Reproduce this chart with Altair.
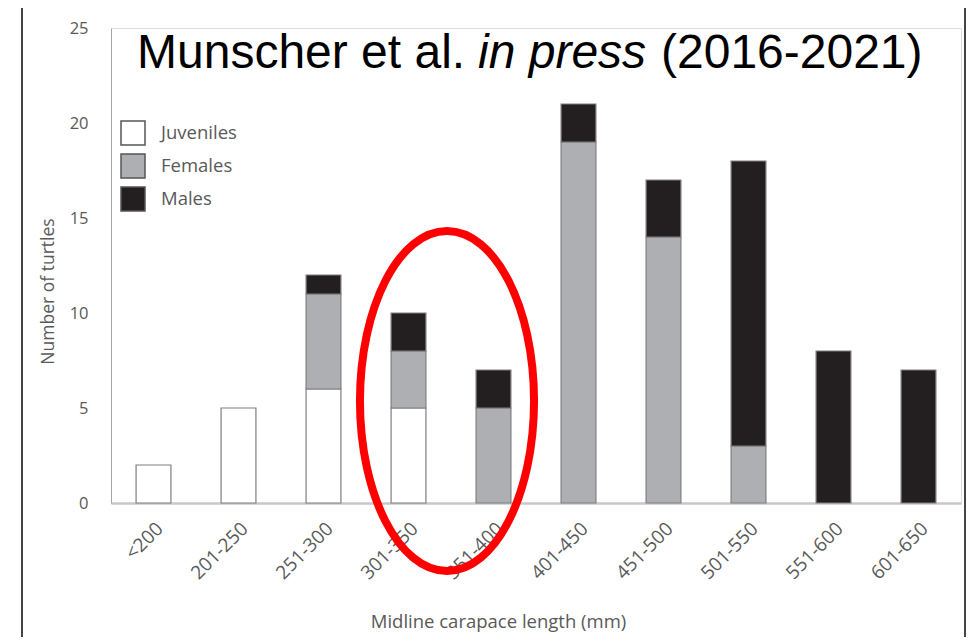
import altair as alt
import pandas as pd

categories = ["<200", "201-250", "251-300", "301-350", "351-400",
              "401-450", "451-500", "501-550", "551-600", "601-650"]
juveniles = [2, 5, 6, 5, 0, 0, 0, 0, 0, 0]
females = [0, 0, 5, 3, 5, 19, 14, 3, 0, 0]
males = [0, 0, 1, 2, 2, 2, 3, 15, 8, 7]
groups = ["Juveniles", "Females", "Males"]
group_colors = ["#ffffff", "#aeafb3", "#231f20"]
y_ticks = [0, 5, 10, 15, 20, 25]

title_parts = ["Munscher et al.", "in press", "(2016-2021)"]

rows = []
for i, c in enumerate(categories):
    for o, (g, vals) in enumerate(zip(groups, [juveniles, females, males])):
        if vals[i] > 0:
            rows.append({"cat": c, "group": g, "n": vals[i], "order": o})
df = pd.DataFrame(rows)

FONT = "Open Sans"
GREY_TXT = "#595959"

bars = alt.Chart(df).mark_bar(stroke="#7f7f7f", strokeWidth=1.2).encode(
    x=alt.X("cat:N", sort=categories,
            scale=alt.Scale(paddingInner=0.59, paddingOuter=0.295),
            axis=alt.Axis(title="Midline carapace length (mm)", labelAngle=-45,
                          labelFontSize=19, labelFont=FONT, labelColor=GREY_TXT,
                          ticks=False, domainColor="#c8c8cc", domainWidth=2.5,
                          labelPadding=16, titleFontSize=18.5, titleFont=FONT,
                          titleColor=GREY_TXT, titleFontWeight="normal",
                          titleX=387, titleY=124, titleBaseline="alphabetic",
                          grid=False)),
    y=alt.Y("n:Q", stack="zero",
            scale=alt.Scale(domain=[0, 25], nice=False),
            axis=alt.Axis(title="Number of turtles", values=y_ticks, ticks=False,
                          domainColor="#a6a6a6", domainWidth=1, labelPadding=23,
                          labelFontSize=16.5, labelFont=FONT, labelColor=GREY_TXT,
                          titleFontSize=17.5, titleFont=FONT, titleColor=GREY_TXT,
                          titleFontWeight="normal", titleX=-54, titleY=263,
                          grid=False)),
    color=alt.Color("group:N", scale=alt.Scale(domain=groups, range=group_colors),
                    legend=alt.Legend(title=None, orient="none", legendX=9, legendY=92,
                                      symbolType="square", symbolSize=576,
                                      symbolStrokeColor="#555555", symbolStrokeWidth=1.5,
                                      symbolOpacity=1,
                                      labelFontSize=18.5, labelFont=FONT, labelColor=GREY_TXT,
                                      labelOffset=15, rowPadding=3)),
    order=alt.Order("order:Q"),
)

one = alt.Data(values=[{}])

t1 = alt.Chart(one).mark_text(text=title_parts[0], font="Liberation Sans", fontSize=48,
                              align="left", baseline="alphabetic", color="black").encode(
    x=alt.value(26), y=alt.value(40))
t2 = alt.Chart(one).mark_text(text=title_parts[1], font="Liberation Sans", fontSize=48,
                              fontStyle="italic", align="left", baseline="alphabetic",
                              color="black").encode(x=alt.value(367), y=alt.value(40))
t3 = alt.Chart(one).mark_text(text=title_parts[2], font="Liberation Sans", fontSize=48,
                              align="left", baseline="alphabetic", color="black").encode(
    x=alt.value(550), y=alt.value(40))

a = 0.512
k = a * 0.5523
ellipse_path = (f"M0,-1 C{k},-1 {a},-0.5523 {a},0 C{a},0.5523 {k},1 0,1 "
                f"C{-k},1 {-a},0.5523 {-a},0 C{-a},-0.5523 {-k},-1 0,-1 Z")
ellipse = alt.Chart(one).mark_point(shape=ellipse_path, size=340 * 340, filled=False,
                                    stroke="#ff0000", strokeWidth=8, opacity=1).encode(
    x=alt.value(336), y=alt.value(373))

border = alt.Chart(one).mark_rect(filled=False, stroke="#444444", strokeWidth=2).encode(
    x=alt.value(-89), x2=alt.value(854), y=alt.value(-23), y2=alt.value(700))

chart = alt.layer(bars, ellipse, t1, t2, t3, border).properties(
    width=850, height=475,
    autosize=alt.AutoSizeParams(type="none"),
    padding={"left": 103, "top": 20, "right": 6, "bottom": 134},
).configure_view(stroke=None).configure(font=FONT)

chart.save("out.html", embed_options={"renderer": "svg", "actions": False})
